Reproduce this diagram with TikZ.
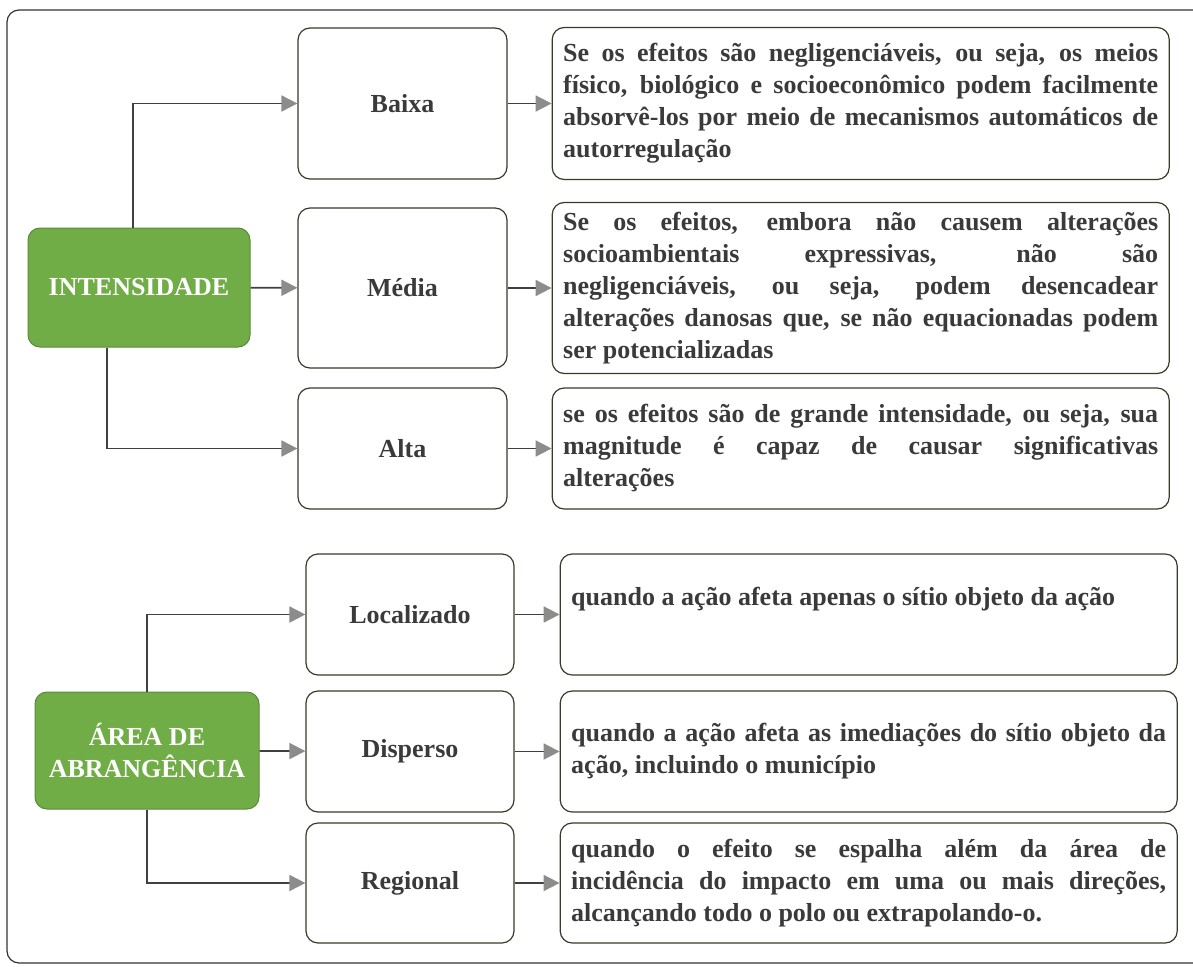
\documentclass[tikz,border=0pt]{standalone}
\usepackage{fontspec}
\setmainfont{Liberation Serif}
\usetikzlibrary{positioning}
\usetikzlibrary{arrows.meta}
\definecolor{verde}{RGB}{112,173,71}
\definecolor{borda}{RGB}{50,62,38}
\definecolor{texto}{RGB}{58,58,58}
\hbadness=10000
\tikzset{titulo/.style={rectangle,rounded corners=12pt,fill=verde,draw=verde!80!black,line width=1pt,
text=white,align=center,font=\fontsize{26}{32}\selectfont\bfseries},
nivel/.style={rectangle,rounded corners=12pt,draw=borda,line width=1.2pt,text=texto,align=center,
minimum width=209pt,minimum height=121pt,font=\fontsize{26}{32}\selectfont\bfseries},
desc/.style={rectangle,rounded corners=12pt,draw=borda,line width=1.2pt,text=texto,align=justify,
text width=595pt,inner xsep=11pt,minimum height=121pt,font=\fontsize{26}{32}\selectfont\bfseries},
liga/.style={draw=black!75,line width=1.8pt},
>={Triangle[length=16pt,width=16pt,color=black!45]}}

\begin{document}
\begin{tikzpicture}[x=1pt,y=-1pt]
  \useasboundingbox (0,0) rectangle (1193,966);
  \draw [black!80,line width=1.2pt,rounded corners=12pt] (7,10) rectangle (1215,963);

  % intensidade
  \node (intens) [titulo,minimum width=222pt,minimum height=119pt] at (139,287.5) {INTENSIDADE};
  \node (baixa) [nivel,minimum height=151pt] at (402.5,103.5) {Baixa};
  \node (media) [nivel,minimum height=160pt] at (402.5,288) {Média};
  \node (alta) [nivel] at (402.5,448.5) {Alta};

  \node (dbaixa) [desc,minimum height=152pt,right=44pt of baixa] {Se os efeitos são negligenciáveis, ou seja, os meios\linebreak
    físico, biológico e socioeconômico podem facilmente\linebreak
    absorvê-los por meio de mecanismos automáticos de\linebreak
    autorregulação};
  \node (dmedia) [desc,minimum height=171pt,right=44pt of media] {Se os efeitos, embora não causem alterações\linebreak
    socioambientais expressivas, não são\linebreak
    negligenciáveis, ou seja, podem desencadear\linebreak
    alterações danosas que, se não equacionadas podem\linebreak
    ser potencializadas};
  \node (dalta) [desc,right=44pt of alta] {se os efeitos são de grande intensidade, ou seja, sua\linebreak
    magnitude é capaz de causar significativas\linebreak
    alterações};

  \draw [liga,->] ([xshift=-6pt]intens.north) |- (baixa);
  \draw [liga,->] (intens) -- (media);
  \draw [liga,->] ([xshift=-32pt]intens.south) |- (alta);
  \draw [liga,->] (baixa) -- (dbaixa);
  \draw [liga,->] (media) -- (dmedia);
  \draw [liga,->] (alta) -- (dalta);

  % area de abrangencia
  \node (area) [titulo,minimum width=224pt,minimum height=117pt] at (147,750.5) {ÁREA DE\\ABRANGÊNCIA};
  \node (local) [nivel,minimum width=208pt] at (410,614.5) {Localizado};
  \node (disp) [nivel,minimum width=208pt] at (410,751.5) {Disperso};
  \node (reg) [nivel,minimum width=208pt,minimum height=120pt] at (410,883) {Regional};

  \node (dlocal) [desc,text depth=36pt,right=45pt of local] {quando a ação afeta apenas o sítio objeto da ação};
  \node (ddisp) [desc,right=45pt of disp] {quando a ação afeta as imediações do sítio objeto da\linebreak
    ação, incluindo o município};
  \node (dreg) [desc,minimum height=120pt,right=45pt of reg] {quando o efeito se espalha além da área de\linebreak
    incidência do impacto em uma ou mais direções,\linebreak
    alcançando todo o polo ou extrapolando-o.};

  \draw [liga,->] (area.north) |- (local);
  \draw [liga,->] (area) -- (disp);
  \draw [liga,->] (area.south) |- (reg);
  \draw [liga,->] (local) -- (dlocal);
  \draw [liga,->] (disp) -- (ddisp);
  \draw [liga,->] (reg) -- (dreg);
\end{tikzpicture}
\end{document}
